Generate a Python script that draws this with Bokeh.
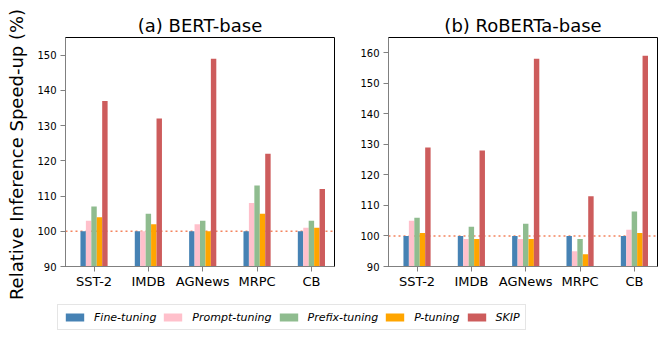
import math
from bokeh.plotting import figure
from bokeh.models import Range1d, FixedTicker, Span, Legend, LegendItem, ColumnDataSource, Label
from bokeh.layouts import column, row
from bokeh.embed import file_html
from bokeh.resources import INLINE

tasks = ["SST-2", "IMDB", "AGNews", "MRPC", "CB"]
methods = ["Fine-tuning", "Prompt-tuning", "Prefix-tuning", "P-tuning", "SKIP"]
colors = ["#4682B4", "#FFC0CB", "#8FBC8F", "#FFA500", "#CD5C5C"]

bert_fine = [100, 100, 100, 100, 100]
bert_prompt = [103, 100, 102, 108, 101]
bert_prefix = [107, 105, 103, 113, 103]
bert_ptuning = [104, 102, 100, 105, 101]
bert_skip = [137, 132, 149, 122, 112]

roberta_fine = [100, 100, 100, 100, 100]
roberta_prompt = [105, 99, 99, 95, 102]
roberta_prefix = [106, 103, 104, 99, 108]
roberta_ptuning = [101, 99, 99, 94, 101]
roberta_skip = [129, 128, 158, 113, 159]

bert_yticks = [90, 100, 110, 120, 130, 140, 150]
roberta_yticks = [90, 100, 110, 120, 130, 140, 150, 160]
baseline = 100
y_label = "Relative Inference Speed-up (%)"

FONT = "DejaVu Sans"


def make_panel(title, series, y_max, yticks, width, bl, br):
    p = figure(width=width, height=291, output_backend="svg", toolbar_location=None,
               x_range=Range1d(-0.525, 4.425), y_range=Range1d(90, y_max),
               min_border_left=bl, min_border_right=br, min_border_top=37,
               min_border_bottom=23, title=title)
    p.title.text_font = FONT
    p.title.text_font_size = "18px"
    p.title.text_font_style = "normal"
    p.title.align = "center"
    p.title.standoff = 3
    p.title.text_color = "black"
    p.xgrid.visible = False
    p.ygrid.visible = False
    p.outline_line_color = "black"
    p.outline_line_width = 1
    p.background_fill_color = "white"
    p.border_fill_color = "white"

    p.add_layout(Span(location=baseline, dimension="width", line_color="#F4845F",
                      line_dash="2 3", line_width=1.5, level="underlay"))

    for j, (vals, col) in enumerate(zip(series, colors)):
        xs = [i + (j - 2.5) * 0.1 + 0.05 for i in range(len(tasks))]
        p.vbar(x=xs, top=vals, bottom=0, width=0.1, fill_color=col, line_color=None)

    xa = p.xaxis[0]
    xa.ticker = FixedTicker(ticks=list(range(len(tasks))))
    xa.major_label_overrides = {i: t for i, t in enumerate(tasks)}
    xa.major_label_text_font = FONT
    xa.major_label_text_font_size = "13px"
    xa.major_label_text_color = "black"
    xa.major_tick_out = 5
    xa.major_tick_in = 0
    xa.minor_tick_out = 0
    xa.minor_tick_in = 0
    xa.major_label_standoff = 2
    xa.axis_line_color = "#808080"
    xa.major_tick_line_color = "#808080"

    ya = p.yaxis[0]
    ya.ticker = FixedTicker(ticks=yticks)
    ya.major_label_text_font = FONT
    ya.major_label_text_font_size = "10px"
    ya.major_label_text_color = "black"
    ya.major_tick_out = 5
    ya.major_tick_in = 0
    ya.minor_tick_out = 0
    ya.minor_tick_in = 0
    ya.major_label_standoff = 4
    ya.axis_line_color = "#808080"
    ya.major_tick_line_color = "#808080"
    return p


p1 = make_panel("(a) BERT-base",
                [bert_fine, bert_prompt, bert_prefix, bert_ptuning, bert_skip],
                155, bert_yticks, 318, 35, 14)
p2 = make_panel("(b) RoBERTa-base",
                [roberta_fine, roberta_prompt, roberta_prefix, roberta_ptuning, roberta_skip],
                165, roberta_yticks, 317, 40, 8)

# y-axis label column
lab = figure(width=30, height=338, output_backend="svg", toolbar_location=None,
             x_range=Range1d(0, 30), y_range=Range1d(0, 338),
             min_border_left=0, min_border_right=0, min_border_top=0, min_border_bottom=0)
lab.axis.visible = False
lab.grid.visible = False
lab.outline_line_color = None
lab.add_layout(Label(x=16, y=184, text=y_label, angle=math.pi / 2,
                     text_align="center", text_baseline="middle",
                     text_font=FONT, text_font_size="18px", text_color="black"))

# legend strip
lg = figure(width=635, height=47, output_backend="svg", toolbar_location=None,
            x_range=Range1d(0, 1), y_range=Range1d(0, 1),
            min_border_left=0, min_border_right=0, min_border_top=0, min_border_bottom=0)
lg.axis.visible = False
lg.grid.visible = False
lg.outline_line_color = None
items = []
for m, col in zip(methods, colors):
    src = ColumnDataSource(data=dict(x=[5.0], top=[1.0]))
    r = lg.vbar(x="x", top="top", width=0.1, source=src, fill_color=col, line_color=None)
    items.append(LegendItem(label=m, renderers=[r]))
legend = Legend(items=items, orientation="horizontal", location=(27, 8),
                label_text_font=FONT, label_text_font_size="11px",
                label_text_font_style="italic", label_text_color="black",
                glyph_width=23, glyph_height=10, label_height=14,
                label_standoff=8, spacing=5, padding=5,
                border_line_color="#cccccc", border_line_width=1,
                background_fill_color="white", background_fill_alpha=1)
lg.add_layout(legend, "center")

layout = row(lab, column(row(p1, p2), lg))
open("out.html", "w").write(file_html(layout, INLINE))
